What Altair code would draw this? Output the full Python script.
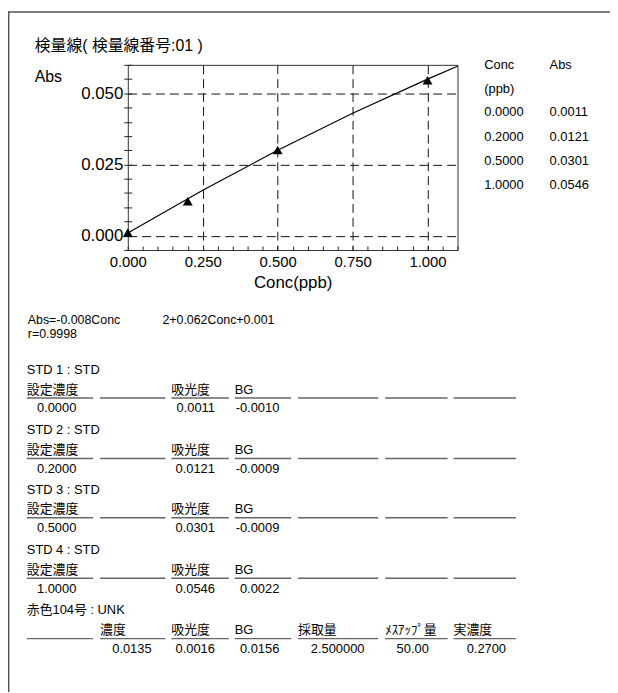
import altair as alt
import pandas as pd

# ---------------- data ----------------
std_names = ["STD 1 : STD", "STD 2 : STD", "STD 3 : STD", "STD 4 : STD"]
std_conc = [0.0000, 0.2000, 0.5000, 1.0000]
std_abs = [0.0011, 0.0121, 0.0301, 0.0546]
std_bg = [-0.0010, -0.0009, -0.0009, 0.0022]

fit_conc = [0.0, 0.25, 0.5, 0.75, 1.0, 1.1]
fit_abs = [0.0010, 0.0160, 0.0300, 0.0430, 0.0550, 0.0595]

std_headers = ["設定濃度", "", "吸光度", "BG", "", "", ""]
unk_name = "赤色104号 : UNK"
unk_headers = ["", "濃度", "吸光度", "BG", "採取量", "ﾒｽｱｯﾌﾟ量", "実濃度"]
unk_values = ["", "0.0135", "0.0016", "0.0156", "2.500000", "50.00", "0.2700"]

title_text = "検量線( 検量線番号:01 )"
eq_part1 = "Abs=-0.008Conc"
eq_part2 = "2+0.062Conc+0.001"
r_text = "r=0.9998"

# ---------------- layout (page pixels) ----------------
OX, OY = 129, 62          # plot area origin on page
W, H = 333, 187
SVG_W, SVG_H = 608, 684
FONT = "Liberation Sans, Noto Sans CJK JP, sans-serif"

seg_x = [(27, 94), (101, 167), (173, 231), (237, 294), (301, 382), (389, 452), (458, 521)]
val_right = [77, 153, 217, 282, 368, 433, 511]
block_y = [370, 431, 491, 552, 613]

left_rows, right_rows, rule_rows = [], [], []

def L(t, x, y):
    left_rows.append({"t": t, "px": x - OX, "py": y - OY})

def R(t, x, y):
    right_rows.append({"t": t, "px": x - OX, "py": y - OY})

# side table
L("Conc", 489, 62)
L("Abs", 555, 62)
L("(ppb)", 489, 86)
for i, (c, a) in enumerate(zip(std_conc, std_abs)):
    yy = 110 + i * 24.5
    L(f"{c:.4f}", 489, yy)
    L(f"{a:.4f}", 555, yy)

# STD blocks
for b, name in enumerate(std_names):
    by = block_y[b]
    L(name, 27, by)
    for k, h in enumerate(std_headers):
        if h:
            L(h, seg_x[k][0], by + 20)
        rule_rows.append({"px": seg_x[k][0] - OX, "px2": seg_x[k][1] - OX, "py": by + 28.5 - OY})
    R(f"{std_conc[b]:.4f}", val_right[0], by + 39)
    R(f"{std_abs[b]:.4f}", val_right[2], by + 39)
    R(f"{std_bg[b]:.4f}", val_right[3], by + 39)

# UNK block
by = block_y[4]
L(unk_name, 27, by)
for k, h in enumerate(unk_headers):
    if h:
        L(h, seg_x[k][0], by + 20)
    rule_rows.append({"px": seg_x[k][0] - OX, "px2": seg_x[k][1] - OX, "py": by + 28.5 - OY})
    if unk_values[k]:
        R(unk_values[k], val_right[k], by + 39)

left_df = pd.DataFrame(left_rows)
right_df = pd.DataFrame(right_rows)
rule_df = pd.DataFrame(rule_rows)

eq_df = pd.DataFrame([
    {"t": eq_part1, "px": 28 - OX, "py": 319.5 - OY},
    {"t": eq_part2, "px": 164 - OX, "py": 319.5 - OY},
    {"t": r_text, "px": 28 - OX, "py": 333.5 - OY},
])
big_df = pd.DataFrame([
    {"t": title_text, "px": 35 - OX, "py": 43 - OY},
    {"t": "Abs", "px": 35 - OX, "py": 74 - OY},
])
frame_df = pd.DataFrame([
    {"px": 8 - OX, "px2": 640 - OX, "py": 8.7 - OY, "py2": 8.7 - OY},
    {"px": 8.7 - OX, "px2": 8.7 - OX, "py": 8 - OY, "py2": 700 - OY},
])

pts_df = pd.DataFrame({"conc": std_conc, "abs": std_abs})
fit_df = pd.DataFrame({"conc": fit_conc, "abs": fit_abs})

# ---------------- axes ----------------
xmaj = "abs(datum.value*4 - round(datum.value*4)) < 1e-6"
ymaj = "abs(datum.value*40 - round(datum.value*40)) < 1e-6"

x_axis = alt.Axis(
    values=[round(i * 0.05, 2) for i in range(23)],
    labelExpr=f"{xmaj} ? format(datum.value, '.3f') : ''",
    labelOverlap=False, labelFlush=False, labelBound=False,
    gridOpacity={"condition": {"test": f"{xmaj} && datum.value > 0.01", "value": 1}, "value": 0},
    gridDash=[9, 5], gridColor="#111", gridWidth=1,
    tickSize=4, offset=-4, tickColor="#222", domain=False,
    labelFont=FONT, labelFontSize=15, labelColor="#000", labelPadding=5,
    title="Conc(ppb)", titleFont=FONT, titleFontSize=17, titleFontWeight="normal",
    titleColor="#000", titlePadding=5,
)
y_axis = alt.Axis(
    values=[round(i * 0.005, 3) for i in range(-1, 13)],
    labelExpr=f"{ymaj} ? format(datum.value, '.3f') : ''",
    labelOverlap=False, labelFlush=False, labelBound=False,
    gridOpacity={"condition": {"test": ymaj, "value": 1}, "value": 0},
    gridDash=[9, 5], gridColor="#111", gridWidth=1,
    tickSize=8, offset=-4, tickColor="#222", domain=False,
    labelFont=FONT, labelFontSize=17, labelColor="#000", labelPadding=1,
    title=None,
)

xs = alt.Scale(domain=[0, 1.1], nice=False, zero=False)
ys = alt.Scale(domain=[-0.005, 0.060], nice=False, zero=False)

fit_line = alt.Chart(fit_df).mark_line(color="#000", strokeWidth=1.2).encode(
    x=alt.X("conc:Q", scale=xs, axis=x_axis),
    y=alt.Y("abs:Q", scale=ys, axis=y_axis),
)
points = alt.Chart(pts_df).mark_point(shape="triangle-up", filled=True, size=100,
                                       color="#000", opacity=1).encode(
    x=alt.X("conc:Q", scale=xs, axis=x_axis),
    y=alt.Y("abs:Q", scale=ys, axis=y_axis),
)
plot = alt.layer(fit_line, points)

def txt(df, size, align="left"):
    return alt.Chart(df).mark_text(font=FONT, fontSize=size, align=align,
                                   baseline="middle", color="#000").encode(
        x=alt.X("px:Q", scale=None, axis=None), y=alt.Y("py:Q", scale=None, axis=None), text="t:N")

rules = alt.Chart(rule_df).mark_rule(color="#666", strokeWidth=1.5).encode(
    x=alt.X("px:Q", scale=None, axis=None), x2="px2:Q", y=alt.Y("py:Q", scale=None, axis=None))
frame = alt.Chart(frame_df).mark_rule(color="#555", strokeWidth=1.5).encode(
    x=alt.X("px:Q", scale=None, axis=None), x2="px2:Q",
    y=alt.Y("py:Q", scale=None, axis=None), y2="py2:Q")

chart = alt.layer(
    plot, frame,
    txt(left_df, 13), txt(right_df, 13, "right"), txt(eq_df, 12.5), txt(big_df, 16),
    rules,
).properties(
    width=W, height=H,
    padding={"left": OX - 8, "top": OY - 8, "right": SVG_W - (OX - 8) - W, "bottom": SVG_H - (OY - 8) - H},
    autosize=alt.AutoSizeParams(type="none"),
    background="#ffffff",
).configure_view(stroke="#333", strokeWidth=1)

chart.save("out.html", embed_options={"renderer": "svg", "actions": False})
